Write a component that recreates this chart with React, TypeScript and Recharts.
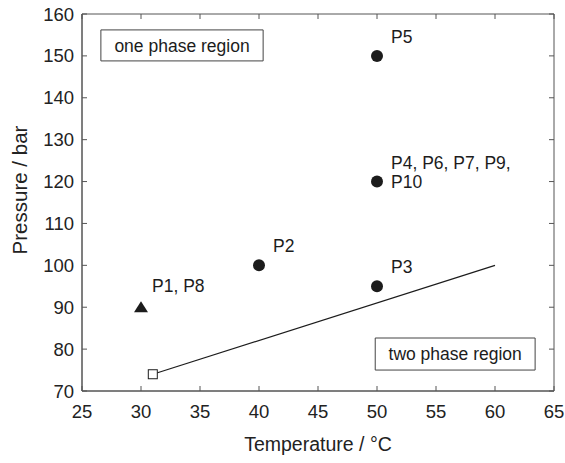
import { ScatterChart, Scatter, XAxis, YAxis, ReferenceArea } from "recharts";

// measured points (temperature in °C, pressure in bar)
const temps = [30, 40, 50, 50, 50];
const pressures = [90, 100, 95, 120, 150];
const pointLabels = [["P1, P8"], ["P2"], ["P3"], ["P4, P6, P7, P9,", "P10"], ["P5"]];
const markers = ["triangle", "circle", "circle", "circle", "circle"];

// phase boundary
const boundaryT = [31, 60];
const boundaryP = [74, 100];

const xTicks = [25, 30, 35, 40, 45, 50, 55, 60, 65];
const yTicks = [70, 80, 90, 100, 110, 120, 130, 140, 150, 160];

const points = temps.map((t, i) => ({ t, p: pressures[i], label: pointLabels[i], marker: markers[i] }));
const circles = points.filter((d) => d.marker === "circle");
const triangles = points.filter((d) => d.marker === "triangle");
const boundary = boundaryT.map((t, i) => ({ t, p: boundaryP[i] }));

const W = 565;
const H = 463;
const margin = { top: 14, right: 11, left: 0, bottom: 0 };
const plotTop = margin.top;
const plotRight = W - margin.right;

const ink = "#1c1c1c";
const axisColor = "#555";
const font = "'Liberation Sans', Arial, sans-serif";

const PointLabel = ({ x, y, lines }: { x: number; y: number; lines: string[] }) => {
  // last line of a multi-line label sits level with the marker
  const last = lines.length > 1 ? y + 6 : y;
  return (
    <>
      {lines.map((l, i) => (
        <text key={i} x={x} y={last - (lines.length - 1 - i) * 19} fontSize={17.5} fill={ink} fontFamily={font}>
          {l}
        </text>
      ))}
    </>
  );
};

const CircleShape = (props: any) => {
  const { cx, cy, payload } = props;
  const multi = payload.label.length > 1;
  return (
    <g>
      <circle cx={cx} cy={cy} r={6} fill={ink} />
      <PointLabel x={cx + 14} y={multi ? cy : cy - 13} lines={payload.label} />
    </g>
  );
};

const TriangleShape = (props: any) => {
  const { cx, cy, payload } = props;
  return (
    <g>
      <path d={`M${cx - 7},${cy + 5} L${cx + 7},${cy + 5} L${cx},${cy - 6} Z`} fill={ink} />
      <PointLabel x={cx + 11} y={cy - 15} lines={payload.label} />
    </g>
  );
};

const SquareShape = (props: any) => {
  const { cx, cy, payload } = props;
  if (payload.t !== boundaryT[0]) return <g />;
  return <rect x={cx - 4.5} y={cy - 4.5} width={9} height={9} fill="#fff" stroke={ink} strokeWidth={1} />;
};

// bottom tick: inward mark on bottom and top of the frame, plus the label
const XTick = (props: any) => {
  const { x, y, payload } = props;
  return (
    <g>
      <line x1={x} x2={x} y1={y} y2={y - 5} stroke={axisColor} />
      <line x1={x} x2={x} y1={plotTop} y2={plotTop + 5} stroke={axisColor} />
      <text x={x} y={y + 27} textAnchor="middle" fontSize={18.5} fill="#222" fontFamily={font}>
        {payload.value}
      </text>
    </g>
  );
};

// left tick: inward mark on left and right of the frame, plus the label
const YTick = (props: any) => {
  const { x, y, payload } = props;
  return (
    <g>
      <line x1={x} x2={x + 5} y1={y} y2={y} stroke={axisColor} />
      <line x1={plotRight} x2={plotRight - 5} y1={y} y2={y} stroke={axisColor} />
      <text x={x - 8} y={y + 6.5} textAnchor="end" fontSize={18.5} fill="#222" fontFamily={font}>
        {payload.value}
      </text>
    </g>
  );
};

const YTitle = () => (
  <text
    x={27}
    y={190}
    transform="rotate(-90, 27, 190)"
    textAnchor="middle"
    fontSize={20.5}
    fill="#222"
    fontFamily={font}
  >
    Pressure / bar
  </text>
);

export default function App() {
  return (
    <div style={{ position: "absolute", left: 0, top: 0 }}>
      <ScatterChart width={W} height={H} margin={margin} style={{ fontFamily: font, background: "#fff" }}>
        <XAxis
          xAxisId="b"
          dataKey="t"
          type="number"
          domain={[25, 65]}
          ticks={xTicks}
          interval={0}
          height={72}
          stroke={axisColor}
          tickLine={false}
          tickSize={0}
          tickMargin={0}
          tick={XTick}
          label={{ value: "Temperature / °C", position: "insideBottom", offset: 12, fill: "#222", fontSize: 19.5 }}
        />
        <YAxis
          yAxisId="l"
          dataKey="p"
          type="number"
          domain={[70, 160]}
          ticks={yTicks}
          interval={0}
          width={82}
          stroke={axisColor}
          tickLine={false}
          tickSize={0}
          tickMargin={0}
          tick={YTick}
          label={{ content: YTitle }}
        />
        {/* plot frame */}
        <ReferenceArea
          xAxisId="b"
          yAxisId="l"
          x1={25}
          x2={65}
          y1={70}
          y2={160}
          fill="none"
          stroke={axisColor}
          strokeWidth={1}
        />
        <ReferenceArea
          xAxisId="b"
          yAxisId="l"
          x1={26.6}
          x2={40.35}
          y1={148.8}
          y2={156.2}
          fill="none"
          stroke="#444"
          strokeWidth={1}
          label={{ value: "one phase region", position: "center", fill: ink, fontSize: 17.5 }}
        />
        <ReferenceArea
          xAxisId="b"
          yAxisId="l"
          x1={49.85}
          x2={63.4}
          y1={75}
          y2={82.65}
          fill="none"
          stroke="#444"
          strokeWidth={1}
          label={{ value: "two phase region", position: "center", fill: ink, fontSize: 17.5 }}
        />
        <Scatter
          xAxisId="b"
          yAxisId="l"
          data={boundary}
          line={{ stroke: ink, strokeWidth: 1.2 }}
          shape={SquareShape}
          isAnimationActive={false}
        />
        <Scatter xAxisId="b" yAxisId="l" data={circles} shape={CircleShape} isAnimationActive={false} />
        <Scatter xAxisId="b" yAxisId="l" data={triangles} shape={TriangleShape} isAnimationActive={false} />
      </ScatterChart>
    </div>
  );
}
